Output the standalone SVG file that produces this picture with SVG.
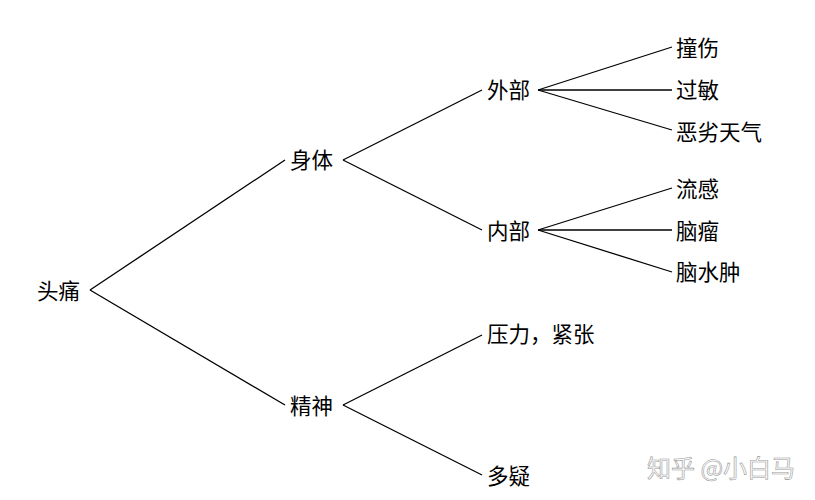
<svg xmlns="http://www.w3.org/2000/svg" width="815" height="500" viewBox="0 0 815 500">
<style>
text{font-family:"Noto Sans CJK SC","Noto Sans",sans-serif;font-size:21.5px;fill:#000;dominant-baseline:central}
.c line{stroke:#000;stroke-width:1.3}
.w{fill:#fff;font-size:24px;stroke:#999;stroke-width:0.6}
</style>
<rect width="815" height="500" fill="#fff"/>
<g class="c">
<line x1="90" y1="290" x2="285" y2="160"/>
<line x1="90" y1="290" x2="285" y2="405"/>
<line x1="343" y1="160" x2="482" y2="90"/>
<line x1="343" y1="160" x2="482" y2="230"/>
<line x1="343" y1="405" x2="482" y2="335"/>
<line x1="343" y1="405" x2="482" y2="475"/>
<line x1="538" y1="90" x2="672" y2="47"/>
<line x1="538" y1="90" x2="672" y2="90"/>
<line x1="538" y1="90" x2="672" y2="130"/>
<line x1="538" y1="230" x2="672" y2="188"/>
<line x1="538" y1="230" x2="672" y2="230"/>
<line x1="538" y1="230" x2="672" y2="272"/>
</g>
<g id="n0"><text x="37" y="289">头痛</text></g>
<g id="n1"><text x="290" y="158">身体</text></g>
<g id="n2"><text x="290" y="404">精神</text></g>
<g id="n3"><text x="487" y="88">外部</text></g>
<g id="n4"><text x="487" y="229">内部</text></g>
<g id="n5"><text x="487" y="332">压力，紧张</text></g>
<g id="n6"><text x="487" y="474">多疑</text></g>
<g id="n7"><text x="676" y="46">撞伤</text></g>
<g id="n8"><text x="676" y="88">过敏</text></g>
<g id="n9"><text x="676" y="130">恶劣天气</text></g>
<g id="n10"><text x="676" y="187">流感</text></g>
<g id="n11"><text x="676" y="229">脑瘤</text></g>
<g id="n12"><text x="676" y="270">脑水肿</text></g>
<text class="w" x="647" y="466">知乎 @小白马</text>
</svg>
